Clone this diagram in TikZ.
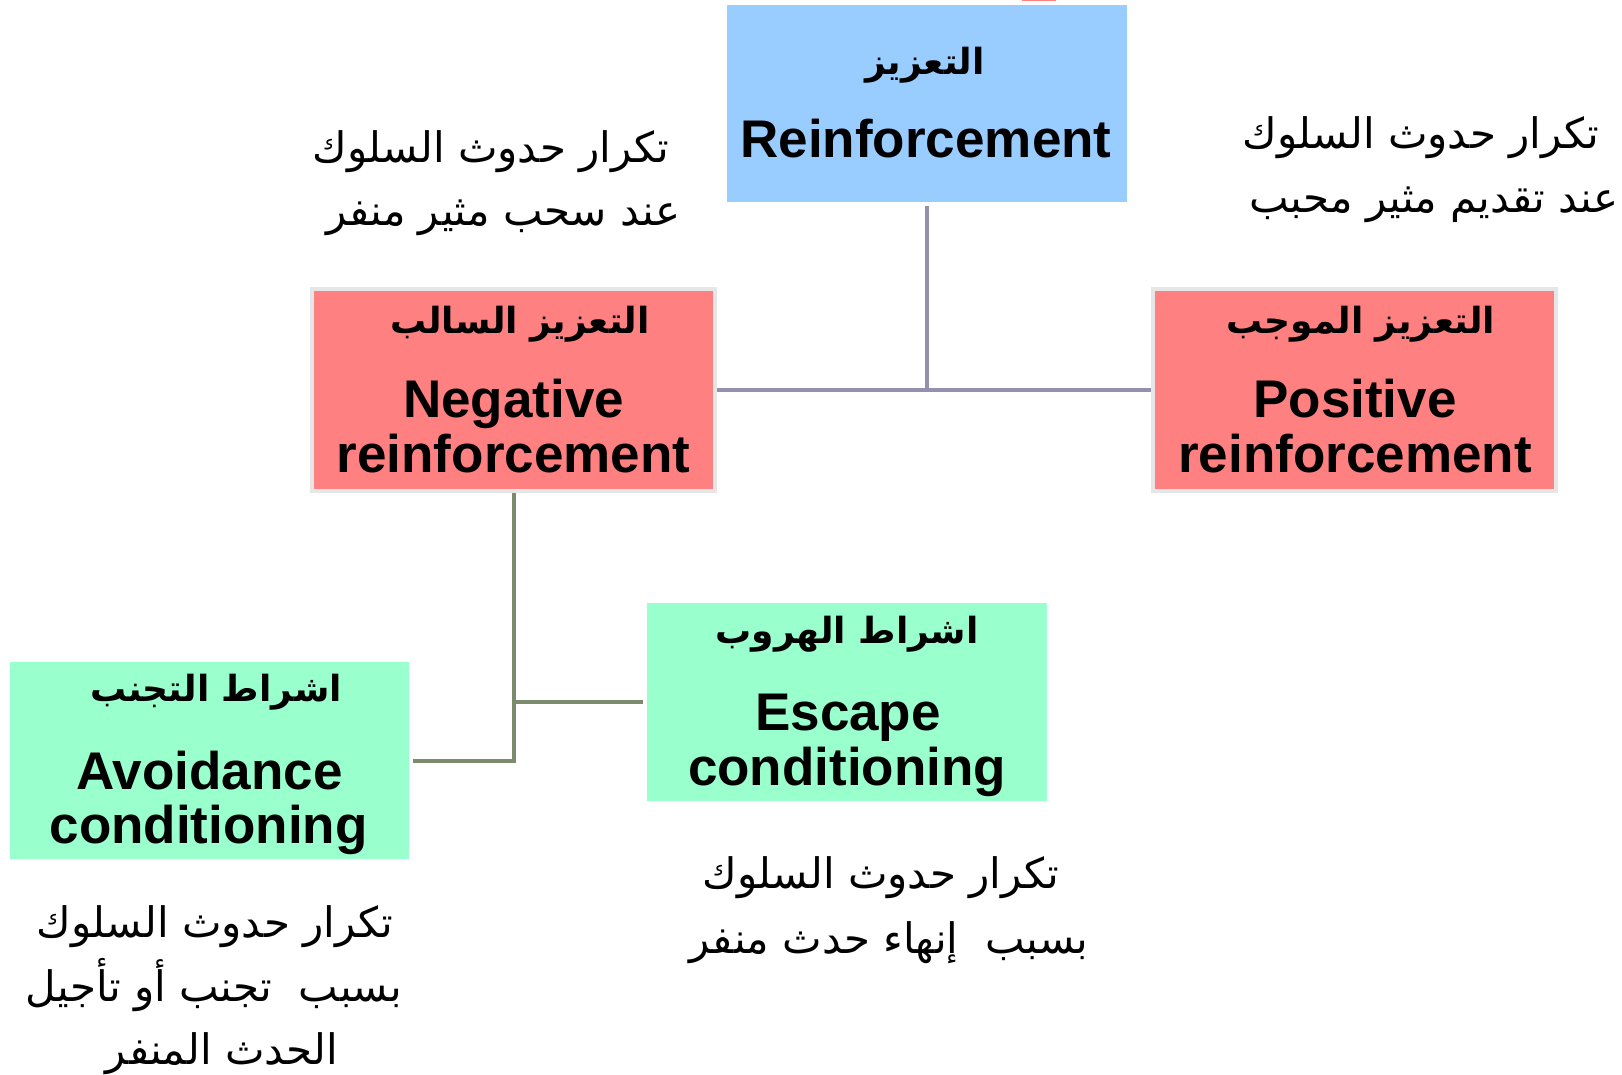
\documentclass[tikz,border=0pt]{standalone}
\usepackage{fontspec}
\setmainfont{Liberation Sans}
\newfontfamily\arabicfont[Script=Arabic]{DejaVu Sans}
\TeXXeTstate=1
\definecolor{bluebox}{HTML}{99CCFF}
\definecolor{redbox}{HTML}{FF8080}
\definecolor{redrim}{HTML}{E6E6E6}
\definecolor{greenbox}{HTML}{99FFCC}
\definecolor{connA}{HTML}{9490AC}
\definecolor{connB}{HTML}{7B8B6B}
\tikzset{
  boxA/.style={rectangle, inner sep=0pt, minimum width=400pt, minimum height=197pt},
  redb/.style={rectangle, inner sep=0pt, minimum width=403pt, minimum height=202pt, fill=redbox, draw=redrim, line width=4pt},
  entxt/.style={font=\fontsize{53}{60}\selectfont\bfseries, inner sep=0pt, anchor=base},
  artxt/.style={font=\arabicfont\bfseries\fontsize{36}{44}\selectfont, inner sep=0pt, anchor=base},
  desctxt/.style={font=\arabicfont\fontsize{42}{50}\selectfont, inner sep=0pt, anchor=base},
  lineA/.style={draw=connA, line width=4pt},
  lineB/.style={draw=connB, line width=4pt},
}
\begin{document}
\begin{tikzpicture}[x=1pt,y=-1pt]
\useasboundingbox[fill=white] (0,0) rectangle (1622,1075);
% tiny clipped red element at the top edge
\fill[redbox] (1022,0) rectangle (1056,1.5);
% boxes
\node[boxA, fill=bluebox] (rein) at (927,103.5) {};
\node[redb] (neg) at (513.5,390) {};
\node[redb] (pos) at (1354.5,390) {};
\node[boxA, fill=greenbox, minimum height=198pt] (esc) at (847,702) {};
\node[boxA, fill=greenbox, minimum width=399pt] (avoid) at (209.5,760.5) {};
% connectors
\draw[lineA, shorten <=4pt] (rein.south) -- (rein.south |- neg.east);
\draw[lineA] (neg.east) -- (pos.west);
\draw[lineB, shorten >=4pt] (neg.south) |- (avoid.east);
\draw[lineB, shorten >=4pt] (neg.south |- esc.west) -- (esc.west);
% box texts
\node[artxt] (reinar) at (925,75) {\beginR التعزيز\endR};
\node[entxt] (reinen) at (926,158) {Reinforcement};
\node[artxt] (negar) at (520,333) {\beginR التعزيز السالب\endR};
\node[entxt] (negen1) at (513.5,417) {Negative};
\node[entxt] (negen2) at (513.5,472) {reinforcement};
\node[artxt] (posar) at (1361,333) {\beginR التعزيز الموجب\endR};
\node[entxt] (posen1) at (1355,417) {Positive};
\node[entxt] (posen2) at (1355,472) {reinforcement};
\node[artxt] (escar) at (847,643) {\beginR اشراط الهروب\endR};
\node[entxt] (escen1) at (848,730) {Escape};
\node[entxt] (escen2) at (847,785) {conditioning};
\node[artxt] (avar) at (216,701) {\beginR اشراط التجنب\endR};
\node[entxt] (aven1) at (209.5,789) {Avoidance};
\node[entxt] (aven2) at (208.5,843) {conditioning};
% descriptions
\node[desctxt] (ul1) at (491,163) {\beginR تكرار حدوث السلوك\endR};
\node[desctxt] (ul2) at (503,226) {\beginR عند سحب مثير منفر\endR};
\node[desctxt] (ur1) at (1421,149) {\beginR تكرار حدوث السلوك\endR};
\node[desctxt] (ur2) at (1434,213) {\beginR عند تقديم مثير محبب\endR};
\node[desctxt] (ed1) at (881,888) {\beginR تكرار حدوث السلوك\endR};
\node[desctxt] (ed2) at (889,953) {\beginR بسبب\ \ إنهاء حدث منفر\endR};
\node[desctxt] (ad1) at (215,937) {\beginR تكرار حدوث السلوك\endR};
\node[desctxt] (ad2) at (214,1001) {\beginR بسبب\ \ تجنب أو تأجيل\endR};
\node[desctxt] (ad3) at (222,1064) {\beginR الحدث المنفر\endR};
\end{tikzpicture}
\end{document}
